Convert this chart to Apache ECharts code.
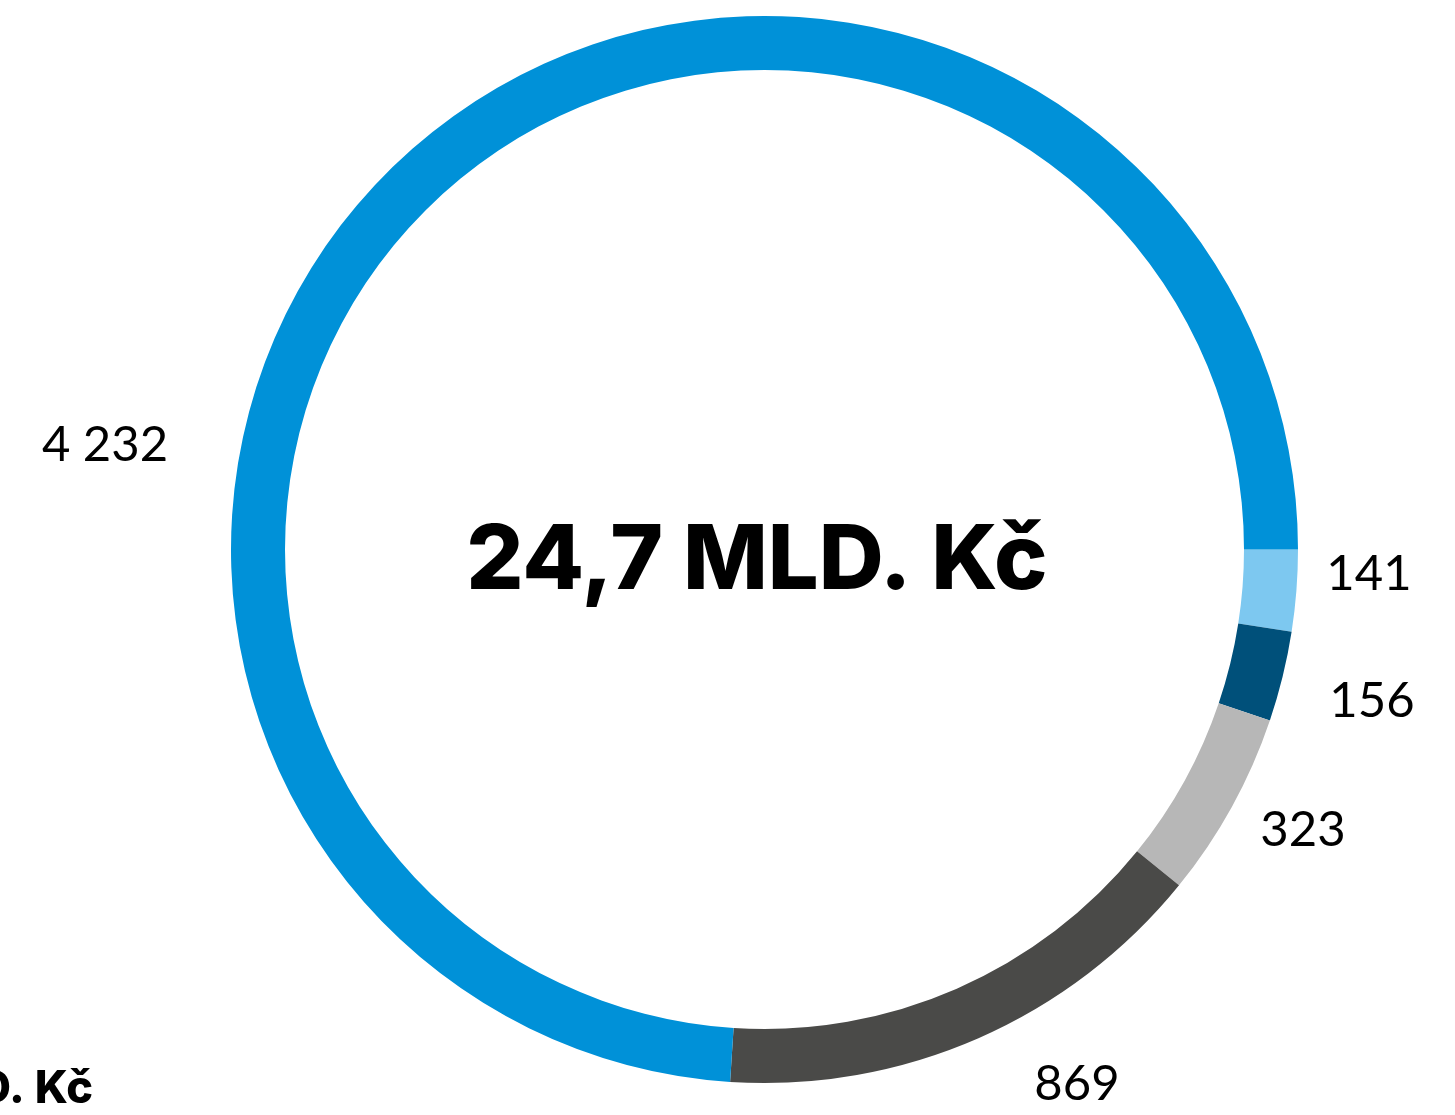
<!DOCTYPE html>
<html>
<head>
<meta charset="utf-8">
<script src="https://cdn.jsdelivr.net/npm/echarts@6/dist/echarts.min.js"></script>
<style>
html,body{margin:0;padding:0;background:#fff;}
#c{width:1455px;height:1115px;}
</style>
</head>
<body>
<div id="c"></div>
<script>
var categories = ['A', 'B', 'C', 'D', 'E'];
var values = [141, 156, 323, 869, 4232];
var colors = ['#7DC8F0', '#00507A', '#B7B7B7', '#4A4A48', '#0091D8'];
var centerText = '24,7 MLD. Kč';
var cornerText = 'MLD. Kč';

var labelSpots = [[1369, 574], [1372, 701], [1303, 830], [1077, 1084], [105, 445]];
function fmt(v) { return String(v).replace(/\B(?=(\d{3})+(?!\d))/g, ' '); }

var chart = echarts.init(document.getElementById('c'), null, {renderer: 'canvas'});
chart.setOption({
  animation: false,
  title: [
    {text: centerText, left: 752, top: 557, textAlign: 'center', textVerticalAlign: 'middle',
     textStyle: {fontFamily: 'Inter', fontWeight: 800, fontSize: 90, color: '#000'}},
    {text: cornerText, left: 88, top: 1084, textAlign: 'right', textVerticalAlign: 'middle',
     textStyle: {fontFamily: 'Inter', fontWeight: 800, fontSize: 45, color: '#000'}}
  ],
  series: [{
    type: 'pie',
    center: [764.5, 549.5],
    radius: [479.5, 533.5],
    startAngle: 0,
    clockwise: true,
    avoidLabelOverlap: false,
    itemStyle: {borderWidth: 0},
    label: {
      show: true, position: 'outside',
      fontFamily: 'Lato', fontSize: 49, color: '#000',
      formatter: function (p) { return fmt(p.value); }
    },
    labelLine: {show: false},
    labelLayout: function (p) {
      var s = labelSpots[p.dataIndex];
      return {x: s[0], y: s[1], align: 'center', verticalAlign: 'middle'};
    },
    emphasis: {disabled: true},
    data: categories.map(function (c, i) {
      return {name: c, value: values[i], itemStyle: {color: colors[i]}};
    })
  }]
});
</script>
</body>
</html>
